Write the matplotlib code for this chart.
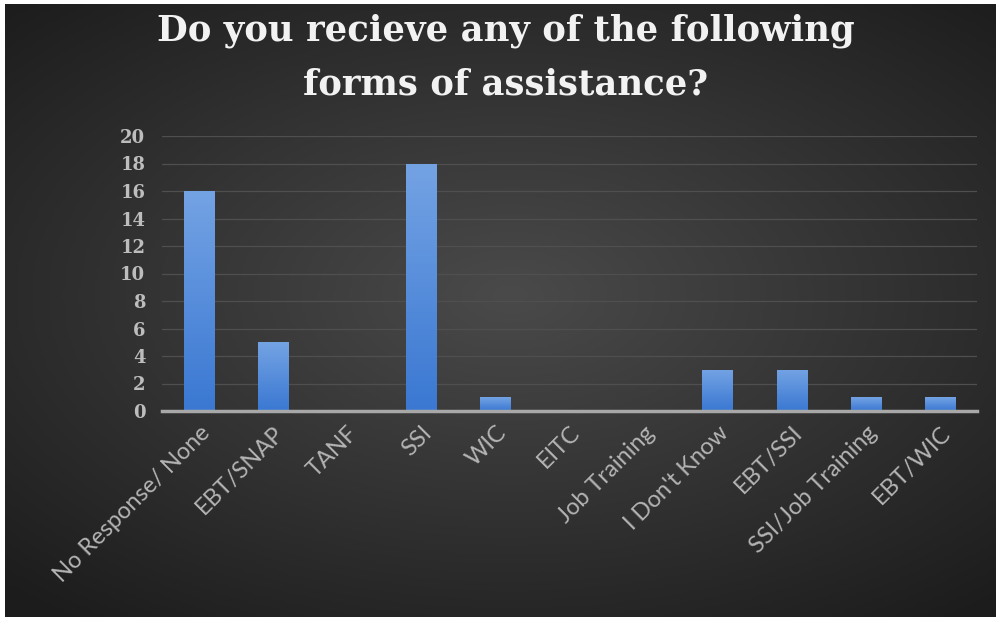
"""Assistance survey bar chart"""

import numpy as np
import matplotlib.pyplot as plt
from matplotlib.colors import LinearSegmentedColormap

categories = ['No Response/ None', 'EBT/SNAP', 'TANF', 'SSI', 'WIC', 'EITC',
              'Job Training', "I Don't Know", 'EBT/SSI', 'SSI/Job Training', 'EBT/WIC']
counts = [16, 5, 0, 18, 1, 0, 0, 3, 3, 1, 1]
yticks = list(range(0, 21, 2))
title = 'Do you recieve any of the following\nforms of assistance?'

fig = plt.figure(figsize=(10.01, 6.26), dpi=100, facecolor='white')

# dark background with a soft radial glow
bg = fig.add_axes([5 / 1001, 9 / 626, 990 / 1001, 613 / 626], zorder=-5)
gx, gy = np.meshgrid(np.linspace(-1, 1, 400), np.linspace(-1, 1, 250))
r = np.sqrt(((gx - 0.02) / 1.1) ** 2 + ((gy + 0.05) / 1.0) ** 2)
glow = np.clip(1 - r / 1.35, 0, 1)
bg_cmap = LinearSegmentedColormap.from_list('bg', ['#1c1c1c', '#4a4a4a'])
bg.imshow(glow, cmap=bg_cmap, aspect='auto', extent=(0, 1, 0, 1), vmin=0, vmax=1)
bg.set_axis_off()

ax = fig.add_axes([162 / 1001, 1 - 411 / 626, 815 / 1001, 275 / 626])
ax.patch.set_alpha(0)

x = np.arange(len(categories))
width = 0.41
bars = ax.bar(x, counts, width, color='#4a86d8', zorder=3)

# vertical blue gradient inside each bar
bar_cmap = LinearSegmentedColormap.from_list('bar', ['#3a78d2', '#74a3e4'])
grad = np.linspace(0, 1, 100).reshape(-1, 1)
for b in bars:
    h = b.get_height()
    if h <= 0:
        continue
    x0 = b.get_x()
    im = ax.imshow(grad, cmap=bar_cmap, origin='lower', aspect='auto',
                   extent=(x0, x0 + b.get_width(), 0, h), zorder=4)
    im.set_clip_path(b)

ax.set_xlim(-0.5, len(categories) - 0.5)
ax.set_ylim(0, 20)
ax.set_yticks(yticks)
ax.set_yticklabels([str(t) for t in yticks], fontsize=13, fontweight='bold',
                   family='DejaVu Serif', color='#bdbdbd')
ax.set_xticks(x)
ax.set_xticklabels(categories, rotation=45, ha='right', va='top',
                   rotation_mode='anchor', fontsize=17, family='Lato',
                   color='#b4b4b4')
ax.tick_params(axis='both', length=0)
ax.tick_params(axis='y', pad=12)
ax.tick_params(axis='x', pad=8)

ax.grid(axis='y', color='#4f4f4f', linewidth=0.9, zorder=0)
for side in ['top', 'right', 'left']:
    ax.spines[side].set_visible(False)
ax.spines['bottom'].set_color('#a8a8a8')
ax.spines['bottom'].set_linewidth(2.5)
ax.spines['bottom'].set_zorder(5)

fig.text(0.505, 0.978, title, ha='center', va='top', fontsize=25.5,
         fontweight='bold', family='DejaVu Serif', color='#f2f2f2',
         linespacing=1.72)

fig.savefig('out.png', dpi=100, facecolor='white')
